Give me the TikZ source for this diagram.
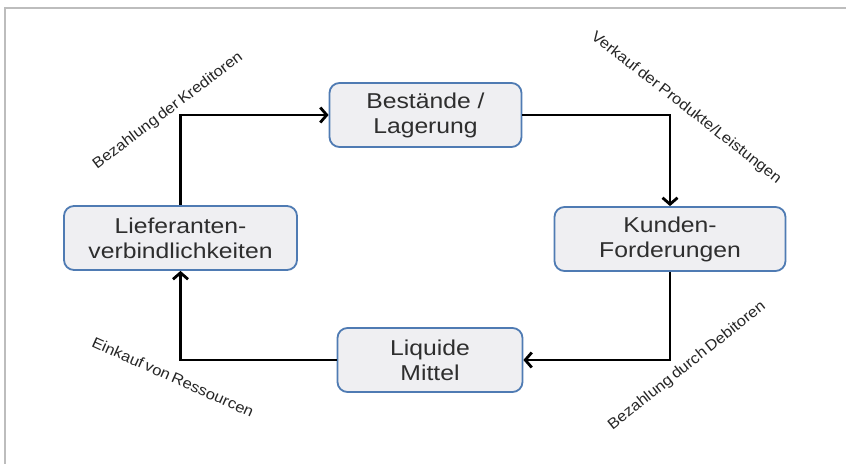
\documentclass[tikz,border=0pt]{standalone}
\usepackage{fontspec}
\setmainfont[FakeStretch=1.15]{Liberation Sans}
\newfontfamily\lblfont[FakeStretch=1.1, WordSpace=0.6]{Liberation Sans}
\usetikzlibrary{arrows.meta}
\definecolor{boxblue}{HTML}{4F7BB3}
\definecolor{boxfill}{HTML}{EFEFF2}
\definecolor{frame}{HTML}{BDBDBD}
\definecolor{txt}{HTML}{2E2E2E}
\tikzset{
  x=1pt, y=-1pt,
  stage/.style={draw=boxblue, line width=1.8pt, fill=boxfill, rounded corners=10pt,
    minimum height=64pt, align=center, text=txt, inner sep=0pt,
    font=\fontsize{21.5}{25}\selectfont},
  flow/.style={line width=2.9pt, -{Straight Barb[length=6.5pt,width=15pt,line width=2.8pt]}},
  lbl/.style={font=\lblfont\fontsize{15}{17}\selectfont, text=black!85, inner sep=0pt}
}
\begin{document}
\begin{tikzpicture}
\useasboundingbox (0,0) rectangle (846,464);
\fill[white] (0,0) rectangle (846,464);
\draw[frame, line width=2pt] (846,8) -- (5,8) -- (5,464);

\node[stage, minimum width=192pt] (best) at (425.5,115) {Bestände /\\Lagerung};
\node[stage, minimum width=231pt] (kund) at (670,239) {Kunden-\\Forderungen};
\node[stage, minimum width=185pt] (liq) at (430,360) {Liquide\\Mittel};
\node[stage, minimum width=233pt] (lief) at (180.5,238) {Lieferanten-\\verbindlichkeiten};

\draw[flow] (lief.north) |- (best.west);
\draw[flow] (best.east) -| (kund.north);
\draw[flow] (kund.south) |- (liq.east);
\draw[flow] (liq.west) -| (lief.south);

\node[lbl, rotate=37] (l1) at (168,111) {Bezahlung der Kreditoren};
\node[lbl, rotate=-38] (l2) at (686,108) {Verkauf der Produkte/Leistungen};
\node[lbl, rotate=38.5] (l3) at (687,366) {Bezahlung durch Debitoren};
\node[lbl, rotate=-24] (l4) at (173,377) {Einkauf von Ressourcen};
\end{tikzpicture}
\end{document}
